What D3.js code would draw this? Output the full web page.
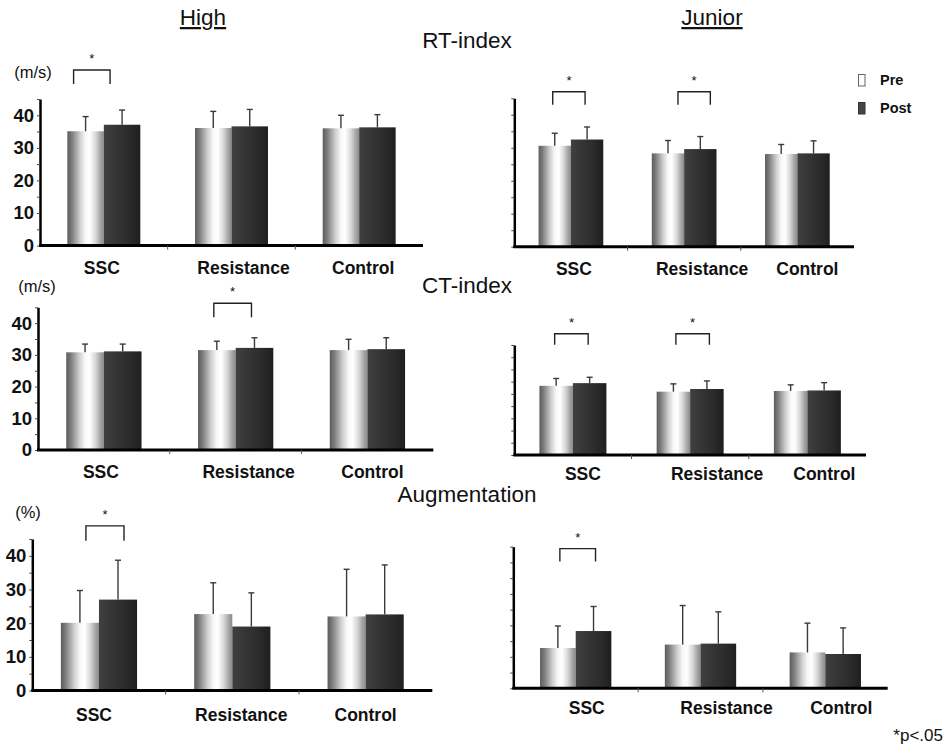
<!DOCTYPE html>
<html>
<head>
<meta charset="utf-8">
<script src="https://cdn.jsdelivr.net/npm/d3@7"></script>
<style>
  body { margin: 0; background: #fff; }
  svg { display: block; font-family: "Liberation Sans", Arial, sans-serif; }
</style>
</head>
<body>
<svg width="945" height="745"></svg>
<script>
// data (mean and SD bar length)
var categories = ["SSC", "Resistance", "Control"];
var series = ["Pre", "Post"];
var yTicks = [0, 5, 10, 15, 20, 25, 30, 35, 40, 45];
var yLabels = [0, 10, 20, 30, 40];

var rtHighPre = [35.1, 36.1, 36.0],   rtHighPreSD = [4.5, 5.1, 4.0];
var rtHighPost = [37.1, 36.6, 36.3],  rtHighPostSD = [4.5, 5.2, 3.9];
var rtJrPre = [30.6, 28.3, 28.1],     rtJrPreSD = [3.8, 3.9, 2.9];
var rtJrPost = [32.5, 29.6, 28.3],    rtJrPostSD = [3.8, 3.8, 3.8];
var ctHighPre = [30.8, 31.5, 31.5],   ctHighPreSD = [2.6, 2.8, 3.4];
var ctHighPost = [31.1, 32.2, 31.8],  ctHighPostSD = [2.3, 3.2, 3.6];
var ctJrPre = [28.3, 25.9, 26.2],     ctJrPreSD = [3.0, 3.2, 2.5];
var ctJrPost = [29.4, 27.0, 26.4],    ctJrPostSD = [2.4, 3.3, 3.2];
var augHighPre = [20.1, 22.7, 22.0],  augHighPreSD = [9.6, 9.3, 14.0];
var augHighPost = [27.0, 19.0, 22.6], augHighPostSD = [11.7, 10.0, 14.7];
var augJrPre = [12.8, 13.9, 11.4],    augJrPreSD = [7.0, 12.4, 9.3];
var augJrPost = [18.2, 14.2, 10.9],   augJrPostSD = [7.8, 10.1, 8.3];

var sectionTitles = ["RT-index", "CT-index", "Augmentation"];
var units = ["(m/s)", "(m/s)", "(%)"];

var svg = d3.select("svg");

var defs = svg.append("defs");
var preGrad = defs.append("linearGradient").attr("id", "preGrad");
[[0, "#5c5c5c"], [0.12, "#7c7c7c"], [0.35, "#cfcfcf"], [0.5, "#f8f8f8"], [0.62, "#ffffff"],
 [0.78, "#d6d6d6"], [0.9, "#a8a8a8"], [1, "#8a8a8a"]].forEach(function (s) {
    preGrad.append("stop").attr("offset", s[0]).attr("stop-color", s[1]);
});
var postGrad = defs.append("linearGradient").attr("id", "postGrad");
[[0, "#404040"], [0.3, "#363636"], [0.7, "#2b2b2b"], [1, "#1f1f1f"]].forEach(function (s) {
    postGrad.append("stop").attr("offset", s[0]).attr("stop-color", s[1]);
});

var panels = [
    {pre: rtHighPre, preSD: rtHighPreSD, post: rtHighPost, postSD: rtHighPostSD,
     x0: 40, x1: 423, yBase: 245.6, yTop: 99, labels: true, labelDy: 28.5, labelDx: [-2, 12, 4],
     sig: [{cat: "SSC", level: 53.9, dx: -12, leg: 14}]},
    {pre: rtJrPre, preSD: rtJrPreSD, post: rtJrPost, postSD: rtJrPostSD,
     x0: 514.3, x1: 854, yBase: 246.7, yTop: 98.3, labels: false, labelDy: 28.5, labelDx: [3, 18, 10],
     sig: [{cat: "SSC", level: 47, dx: -2, leg: 13}, {cat: "Resistance", level: 47, dx: 10, leg: 13}]},
    {pre: ctHighPre, preSD: ctHighPreSD, post: ctHighPost, postSD: ctHighPostSD,
     x0: 38, x1: 433.3, yBase: 450, yTop: 307.3, labels: true, labelDy: 27.5, labelDx: [-3, 13, 5],
     sig: [{cat: "Resistance", level: 46.3, dx: -3, leg: 14}]},
    {pre: ctJrPre, preSD: ctJrPreSD, post: ctJrPost, postSD: ctJrPostSD,
     x0: 514.3, x1: 866, yBase: 455, yTop: 345, labels: false, labelDy: 24.5, labelDx: [10, 27, 17],
     sig: [{cat: "SSC", level: 49.6, dx: -1.5, leg: 11}, {cat: "Resistance", level: 49.6, dx: 2.5, leg: 11}]},
    {pre: augHighPre, preSD: augHighPreSD, post: augHighPost, postSD: augHighPostSD,
     x0: 32.3, x1: 432.3, yBase: 690.5, yTop: 539, labels: true, labelDy: 30.5, labelDx: [-5, 9, 0],
     sig: [{cat: "SSC", level: 48.9, dx: 6, leg: 15}]},
    {pre: augJrPre, preSD: augJrPreSD, post: augJrPost, postSD: augJrPostSD,
     x0: 513.3, x1: 887.7, yBase: 688.3, yTop: 546.7, labels: false, labelDy: 26, labelDx: [11, 26, 16],
     sig: [{cat: "SSC", level: 44.4, dx: 2, leg: 13}]}
];

function drawPanel(p) {
    var g = svg.append("g");
    var x = d3.scaleBand().domain(categories).range([p.x0, p.x1]);
    var xs = d3.scaleBand().domain(series).range([0, x.bandwidth()]).paddingOuter(0.75);
    var y = d3.scaleLinear().domain([0, 45]).range([p.yBase, p.yTop]);

    var rows = [];
    categories.forEach(function (c, i) {
        rows.push({cat: c, s: "Pre", v: p.pre[i], e: p.preSD[i]});
        rows.push({cat: c, s: "Post", v: p.post[i], e: p.postSD[i]});
    });

    g.selectAll(".bar").data(rows).enter().append("rect")
        .attr("class", "bar")
        .attr("x", function (d) { return x(d.cat) + xs(d.s); })
        .attr("y", function (d) { return y(d.v); })
        .attr("width", xs.bandwidth())
        .attr("height", function (d) { return y(0) - y(d.v); })
        .attr("fill", function (d) { return d.s === "Pre" ? "url(#preGrad)" : "url(#postGrad)"; });

    // error bars
    var eb = g.selectAll(".err").data(rows).enter().append("g").attr("class", "err")
        .attr("stroke", "#3a3a3a").attr("stroke-width", 1.4);
    eb.append("line")
        .attr("x1", function (d) { return x(d.cat) + xs(d.s) + xs.bandwidth() / 2; })
        .attr("x2", function (d) { return x(d.cat) + xs(d.s) + xs.bandwidth() / 2; })
        .attr("y1", function (d) { return y(d.v); })
        .attr("y2", function (d) { return y(d.v + d.e); });
    eb.append("line")
        .attr("x1", function (d) { return x(d.cat) + xs(d.s) + xs.bandwidth() / 2 - 3; })
        .attr("x2", function (d) { return x(d.cat) + xs(d.s) + xs.bandwidth() / 2 + 3; })
        .attr("y1", function (d) { return y(d.v + d.e); })
        .attr("y2", function (d) { return y(d.v + d.e); });

    // y axis
    var yAxis = g.append("g")
        .attr("transform", "translate(" + p.x0 + ",0)")
        .call(d3.axisLeft(y).tickValues(yTicks).tickSize(3).tickSizeOuter(0).tickPadding(3)
            .tickFormat(function (d) { return p.labels && yLabels.indexOf(d) >= 0 ? d : ""; }));
    yAxis.select(".domain").attr("stroke", "#000").attr("stroke-width", 2.5);
    yAxis.selectAll(".tick line").attr("stroke", "#444");
    yAxis.selectAll(".tick text")
        .attr("fill", "#111").attr("font-size", 18.5).attr("font-weight", "bold")
        .attr("font-family", "'Liberation Sans', Arial, sans-serif");

    // baseline with category dividers
    g.append("line")
        .attr("x1", p.x0 - 1).attr("x2", p.x1)
        .attr("y1", y(0)).attr("y2", y(0))
        .attr("stroke", "#000").attr("stroke-width", 3);
    g.selectAll(".div").data(categories.slice(1)).enter().append("line")
        .attr("x1", function (c) { return x(c); })
        .attr("x2", function (c) { return x(c); })
        .attr("y1", y(0)).attr("y2", y(0) + 4)
        .attr("stroke", "#555").attr("stroke-width", 1);

    // category labels
    g.selectAll(".cat").data(categories).enter().append("text")
        .attr("x", function (c, i) { return x(c) + x.bandwidth() / 2 + p.labelDx[i]; })
        .attr("y", y(0) + p.labelDy)
        .attr("text-anchor", "middle")
        .attr("font-size", 17.5).attr("font-weight", "bold").attr("fill", "#111")
        .text(function (c) { return c; });

    // significance brackets
    p.sig.forEach(function (s) {
        var a = x(s.cat) + xs("Pre") + xs.bandwidth() / 2 + s.dx;
        var b = x(s.cat) + xs("Post") + xs.bandwidth() / 2 + s.dx;
        var top = y(s.level);
        g.append("path")
            .attr("d", "M" + a + "," + (top + s.leg) + "V" + top + "H" + b + "V" + (top + s.leg))
            .attr("fill", "none").attr("stroke", "#222").attr("stroke-width", 1.4);
        g.append("text")
            .attr("x", (a + b) / 2).attr("y", top - 7)
            .attr("text-anchor", "middle").attr("font-size", 13).attr("fill", "#111")
            .text("*");
    });
}

panels.forEach(drawPanel);

// column headers
[["High", 203], ["Junior", 712]].forEach(function (h) {
    svg.append("text").attr("x", h[1]).attr("y", 25)
        .attr("text-anchor", "middle").attr("font-size", 22.5).attr("fill", "#111")
        .attr("text-decoration", "underline")
        .text(h[0]);
});

// section titles
var titleY = [48, 293, 502];
sectionTitles.forEach(function (t, i) {
    svg.append("text").attr("x", 467).attr("y", titleY[i])
        .attr("text-anchor", "middle").attr("font-size", 22.5).attr("fill", "#111")
        .text(t);
});

// unit labels
var unitPos = [[33, 78], [37, 292], [28, 518]];
units.forEach(function (u, i) {
    svg.append("text").attr("x", unitPos[i][0]).attr("y", unitPos[i][1])
        .attr("text-anchor", "middle").attr("font-size", 16.5).attr("fill", "#111")
        .text(u);
});

// legend
var legend = svg.append("g").attr("transform", "translate(858,74)");
legend.selectAll("rect").data(series).enter().append("rect")
    .attr("x", 0.5).attr("y", function (d, i) { return i * 28 + 0.5; })
    .attr("width", 6.5).attr("height", 11.5)
    .attr("fill", function (d) { return d === "Pre" ? "#fff" : "#444"; })
    .attr("stroke", function (d) { return d === "Pre" ? "#666" : "#333"; })
    .attr("stroke-width", 1);
legend.selectAll("text").data(series).enter().append("text")
    .attr("x", 22).attr("y", function (d, i) { return i * 28 + 10.5; })
    .attr("font-size", 14.5).attr("font-weight", "bold").attr("fill", "#111")
    .text(function (d) { return d; });

svg.append("text").attr("x", 943).attr("y", 741)
    .attr("text-anchor", "end").attr("font-size", 17).attr("fill", "#111")
    .text("*p<.05");
</script>
</body>
</html>
